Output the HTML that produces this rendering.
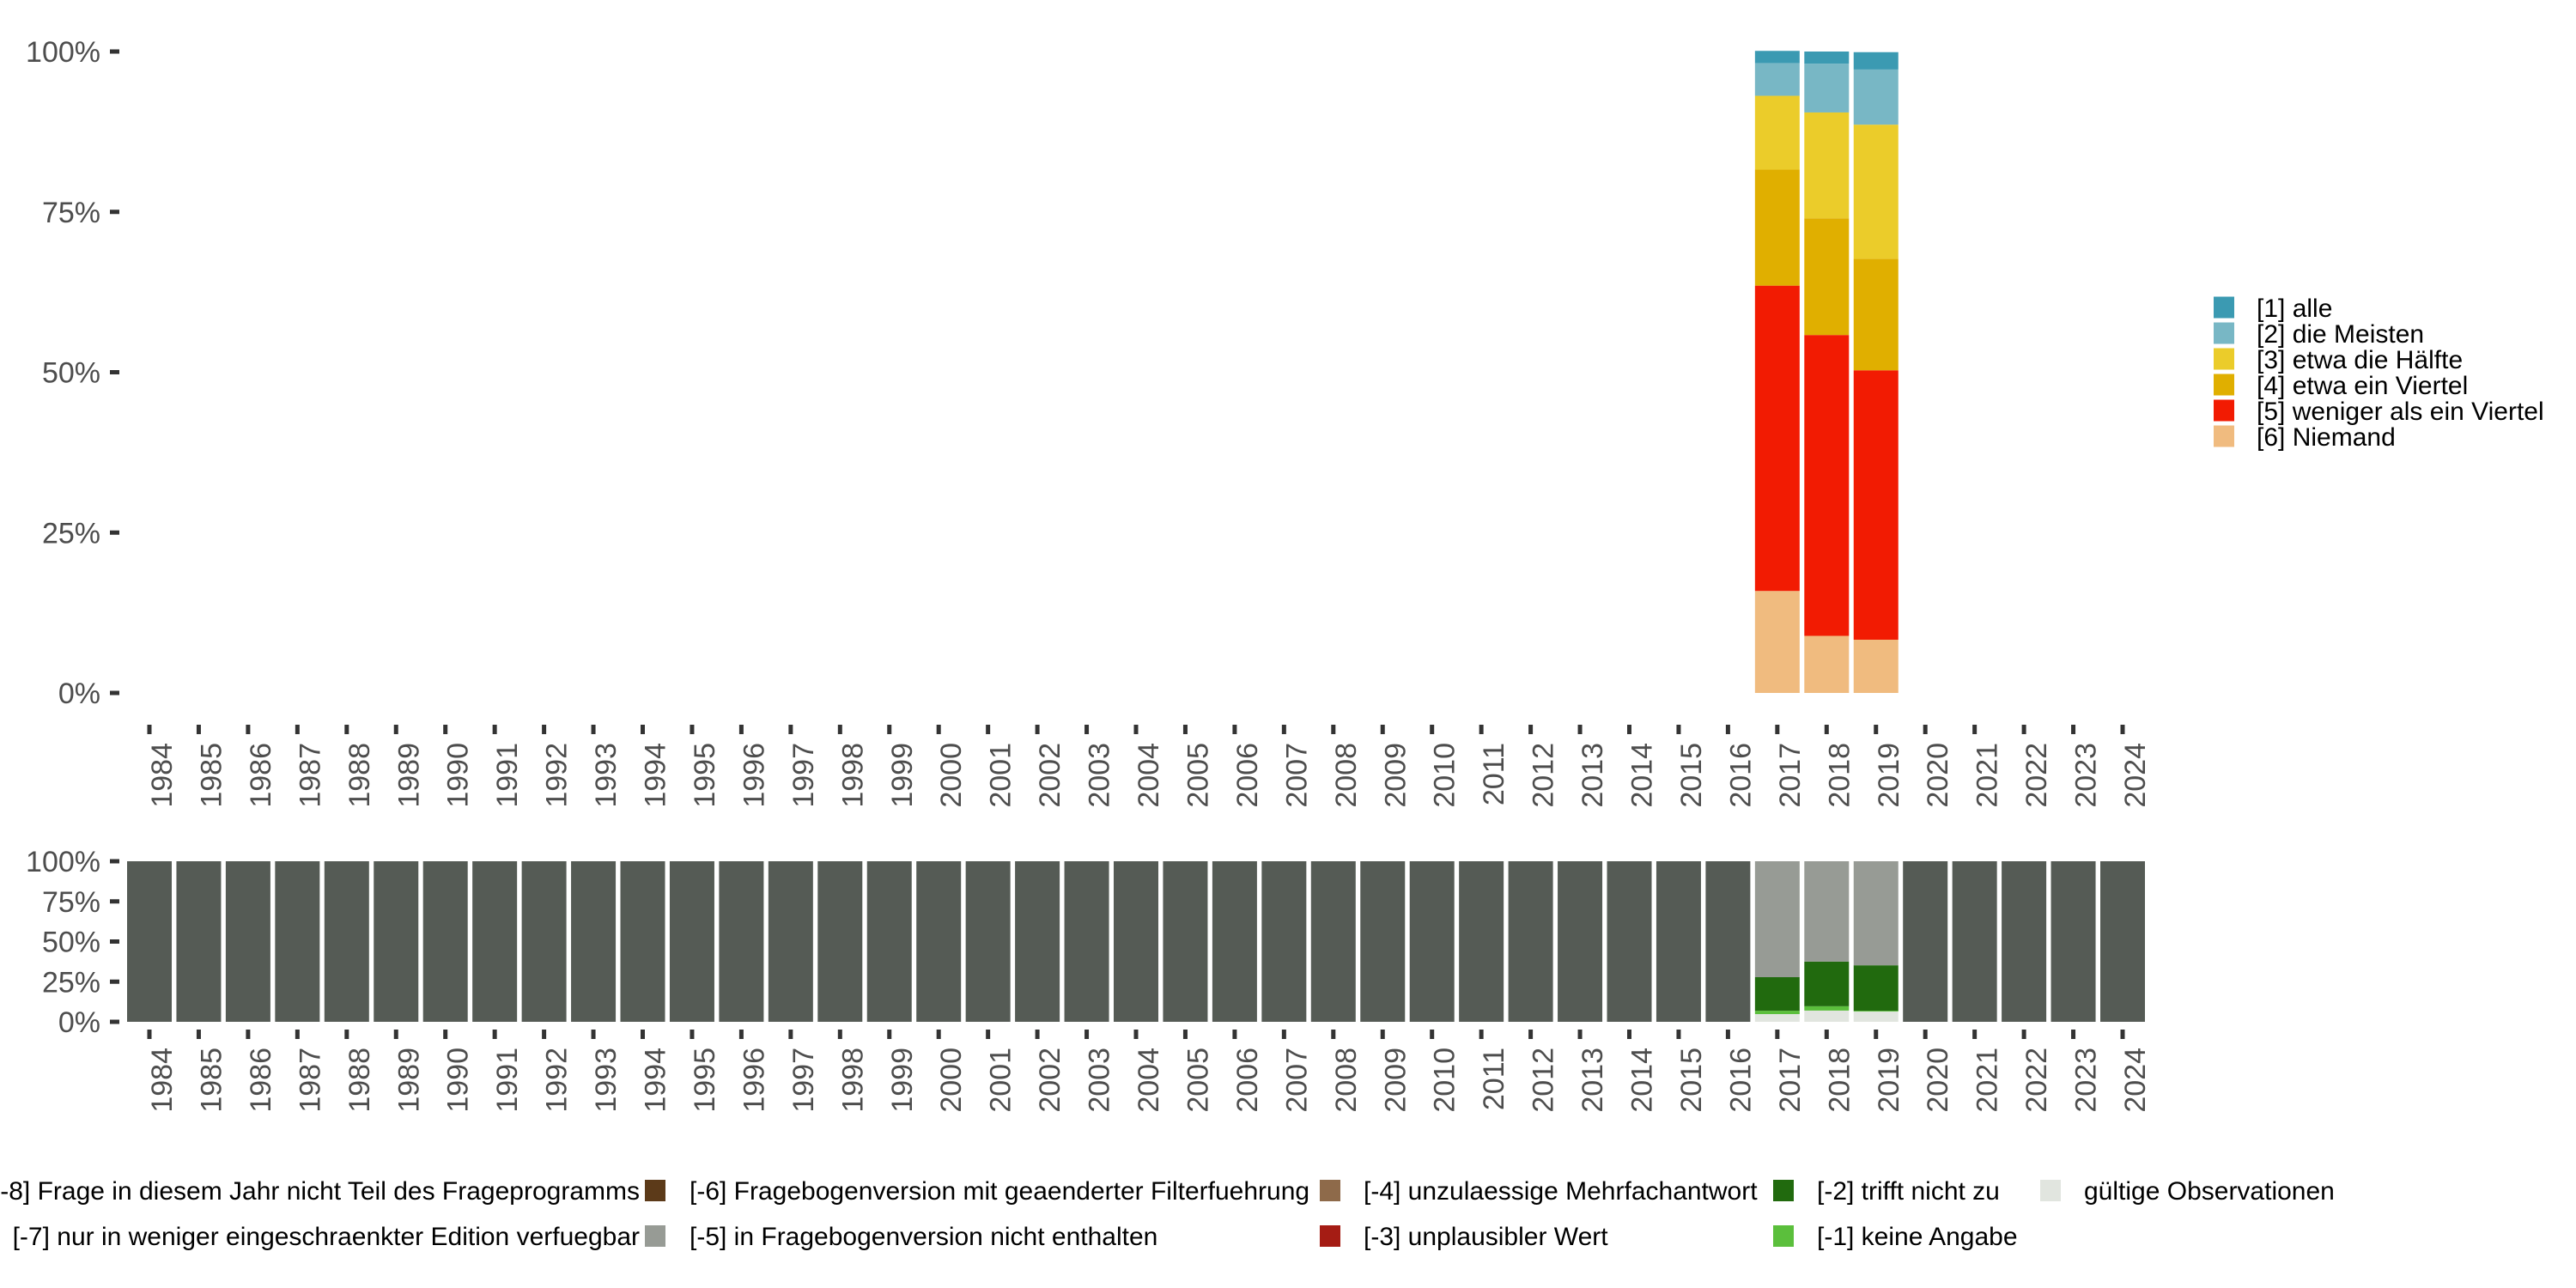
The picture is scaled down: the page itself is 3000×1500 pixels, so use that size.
<!DOCTYPE html>
<html><head><meta charset="utf-8"><style>
html,body{margin:0;padding:0;background:#fff;}
svg{display:block;font-family:"Liberation Sans",sans-serif;}
</style></head><body>
<svg id="chart" width="3000" height="1500" viewBox="0 0 3000 1500" xmlns="http://www.w3.org/2000/svg">
<g id="top"></g>
<g id="bottom"></g>
<g id="legR"></g>
<g id="legB"></g>
</svg>
<script>
const years = [1984,1985,1986,1987,1988,1989,1990,1991,1992,1993,1994,1995,1996,1997,1998,1999,2000,2001,2002,2003,2004,2005,2006,2007,2008,2009,2010,2011,2012,2013,2014,2015,2016,2017,2018,2019,2020,2021,2022,2023,2024];
const yTicks = [0,25,50,75,100];
const yTickLabels = ["0%","25%","50%","75%","100%"];
// top panel: valid responses (bottom to top: [6],[5],[4],[3],[2],[1])
const topYears = [2017,2018,2019];
const topCats = ["[6] Niemand","[5] weniger als ein Viertel","[4] etwa ein Viertel","[3] etwa die Hälfte","[2] die Meisten","[1] alle"];
const topColors = ["#f0bb7f","#f21b02","#e0af00","#ebcc2a","#78b7c5","#3b9ab2"];
const v6 = [15.9, 8.9, 8.3];
const v5 = [47.6, 46.9, 42.0];
const v4 = [18.1, 18.2, 17.4];
const v3 = [11.5, 16.5, 20.9];
const v2 = [5.1, 7.6, 8.6];
const v1 = [1.9, 1.9, 2.7];
// bottom panel: missing categories (bottom to top)
const botCats = ["gültige Observationen","[-1] keine Angabe","[-2] trifft nicht zu","[-5] in Fragebogenversion nicht enthalten"];
const botColors = ["#e1e5df","#5bbf3c","#216a0e","#979b95"];
const gValid = [4.8, 7.0, 6.4];
const gM1 = [2.1, 2.7, 0.5];
const gM2 = [20.9, 27.8, 28.3];
const gM5 = [72.2, 62.5, 64.8];
const notInProgram = 100; // [-8] for other years

const NS="http://www.w3.org/2000/svg";
function mk(tag, parent, attrs){const e=document.createElementNS(NS,tag);for(const k in attrs)e.setAttribute(k,attrs[k]);parent.appendChild(e);return e;}
const pitch=57.45, x0=174, bw=52;
function xC(y){return x0+(y-1984)*pitch;}

function panel(g, top, bot, fontY){
  const sy=v=>bot-(bot-top)*v/100;
  yTicks.forEach((t,i)=>{
    const tk=mk('rect',g,{x:128,y:sy(t)-2.5,width:11,height:5,fill:'#333'});
    
    
    const tx=mk('text',g,{x:117,y:sy(t)+12,'text-anchor':'end','font-size':34,fill:'#4d4d4d'});
    tx.textContent=yTickLabels[i];
    
    
  });
  return sy;
}
function xAxis(g, tickY, labY){
  years.forEach(y=>{
    const tk=mk('rect',g,{x:xC(y)-2.5,y:tickY,width:5,height:11,fill:'#333'});
    
    
    const tx=mk('text',g,{x:0,y:0,'text-anchor':'end','font-size':34,fill:'#4d4d4d',transform:`translate(${xC(y)+26},${labY}) rotate(-90)`});
    tx.textContent=y;
    
    
  });
}
// top panel
const gT=document.getElementById('top');
const syT=panel(gT,60,807);
const topSeries=[v6,v5,v4,v3,v2,v1];
topYears.forEach((yr,j)=>{
  let acc=0;
  topSeries.forEach((s,k)=>{
    const y1=syT(acc+s[j]), y0=syT(acc);
    const r=mk('rect',gT,{x:xC(yr)-bw/2,y:y1,width:bw,height:y0-y1,fill:topColors[k]});
    
    
    acc+=s[j];
  });
});
xAxis(gT,844,865);
// bottom panel
const gB=document.getElementById('bottom');
const syB=panel(gB,1003,1190);
const botSeries=[gValid,gM1,gM2,gM5];
years.forEach(yr=>{
  const j=topYears.indexOf(yr);
  if(j<0){
    const r=mk('rect',gB,{x:xC(yr)-bw/2,y:syB(notInProgram),width:bw,height:syB(0)-syB(notInProgram),fill:'#555b55'});
    
    
  } else {
    let acc=0;
    botSeries.forEach((s,k)=>{
      const y1=syB(acc+s[j]), y0=syB(acc);
      const r=mk('rect',gB,{x:xC(yr)-bw/2,y:y1,width:bw,height:y0-y1,fill:botColors[k]});
      
      
      acc+=s[j];
    });
  }
});
xAxis(gB,1199,1220);
// right legend
const gR=document.getElementById('legR');
for(let i=0;i<6;i++){
  const k=5-i, cy=358+i*30;
  const sq=mk('rect',gR,{x:2578,y:cy-12.5,width:24,height:25,fill:topColors[k]});
  
  
  const t=mk('text',gR,{x:2628,y:cy+11,'font-size':30,fill:'#000'});
  t.textContent=topCats[k];
  
  
}
// bottom legend
const gL=document.getElementById('legB');
const bl=[
 {sq:null,tx:745,anchor:'end',row:0,c:null,t:"[-8] Frage in diesem Jahr nicht Teil des Frageprogramms"},
 {sq:null,tx:745,anchor:'end',row:1,c:null,t:"[-7] nur in weniger eingeschraenkter Edition verfuegbar"},
 {sq:751,tx:803,row:0,c:"#5c3a19",t:"[-6] Fragebogenversion mit geaenderter Filterfuehrung"},
 {sq:751,tx:803,row:1,c:"#979b95",t:"[-5] in Fragebogenversion nicht enthalten"},
 {sq:1537,tx:1588,row:0,c:"#8e6a4a",t:"[-4] unzulaessige Mehrfachantwort"},
 {sq:1537,tx:1588,row:1,c:"#a51c14",t:"[-3] unplausibler Wert"},
 {sq:2065,tx:2116,row:0,c:"#216a0e",t:"[-2] trifft nicht zu"},
 {sq:2065,tx:2116,row:1,c:"#5bbf3c",t:"[-1] keine Angabe"},
 {sq:2376,tx:2427,row:0,c:"#e1e5df",t:"gültige Observationen"}
];
bl.forEach(o=>{
  const cy=o.row?1439:1386;
  if(o.sq!==null){
    const s=mk('rect',gL,{x:o.sq,y:cy-12,width:24,height:25,fill:o.c});
    
    
  }
  const t=mk('text',gL,{x:o.tx,y:cy+11,'font-size':30,fill:'#000','text-anchor':o.anchor||'start'});
  t.textContent=o.t;
  
  
});
</script>
</body></html>
